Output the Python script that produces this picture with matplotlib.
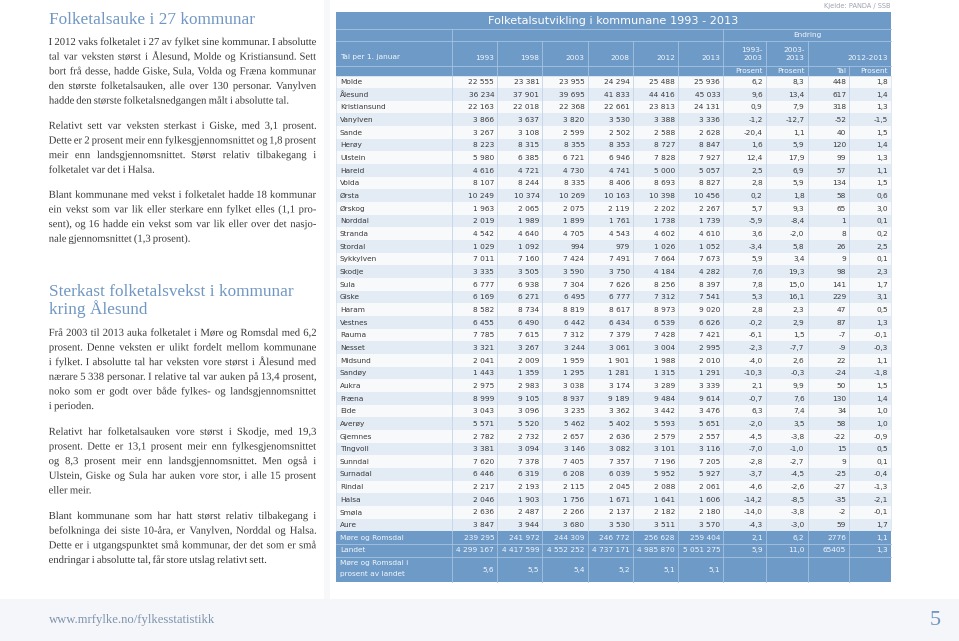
import matplotlib
matplotlib.use("Agg")
import matplotlib.pyplot as plt
from matplotlib.patches import Rectangle, PathPatch
from matplotlib.font_manager import FontProperties
from matplotlib.textpath import TextPath
from matplotlib.transforms import Affine2D

# ---------------- data ----------------
municipalities = ["Molde", "Ålesund", "Kristiansund", "Vanylven", "Sande", "Herøy", "Ulstein",
                  "Hareid", "Volda", "Ørsta", "Ørskog", "Norddal", "Stranda", "Stordal",
                  "Sykkylven", "Skodje", "Sula", "Giske", "Haram", "Vestnes", "Rauma", "Nesset",
                  "Midsund", "Sandøy", "Aukra", "Fræna", "Eide", "Averøy", "Gjemnes", "Tingvoll",
                  "Sunndal", "Surnadal", "Rindal", "Halsa", "Smøla", "Aure"]
pop_1993 = [22555, 36234, 22163, 3866, 3267, 8223, 5980, 4616, 8107, 10249, 1963, 2019, 4542, 1029,
            7011, 3335, 6777, 6169, 8582, 6455, 7785, 3321, 2041, 1443, 2975, 8999, 3043, 5571,
            2782, 3381, 7620, 6446, 2217, 2046, 2636, 3847]
pop_1998 = [23381, 37901, 22018, 3637, 3108, 8315, 6385, 4721, 8244, 10374, 2065, 1989, 4640, 1092,
            7160, 3505, 6938, 6271, 8734, 6490, 7615, 3267, 2009, 1359, 2983, 9105, 3096, 5520,
            2732, 3094, 7378, 6319, 2193, 1903, 2487, 3944]
pop_2003 = [23955, 39695, 22368, 3820, 2599, 8355, 6721, 4730, 8335, 10269, 2075, 1899, 4705, 994,
            7424, 3590, 7304, 6495, 8819, 6442, 7312, 3244, 1959, 1295, 3038, 8937, 3235, 5462,
            2657, 3146, 7405, 6208, 2115, 1756, 2266, 3680]
pop_2008 = [24294, 41833, 22661, 3530, 2502, 8353, 6946, 4741, 8406, 10163, 2119, 1761, 4543, 979,
            7491, 3750, 7626, 6777, 8617, 6434, 7379, 3061, 1901, 1281, 3174, 9189, 3362, 5402,
            2636, 3082, 7357, 6039, 2045, 1671, 2137, 3530]
pop_2012 = [25488, 44416, 23813, 3388, 2588, 8727, 7828, 5000, 8693, 10398, 2202, 1738, 4602, 1026,
            7664, 4184, 8256, 7312, 8973, 6539, 7428, 3004, 1988, 1315, 3289, 9484, 3442, 5593,
            2579, 3101, 7196, 5952, 2088, 1641, 2182, 3511]
pop_2013 = [25936, 45033, 24131, 3336, 2628, 8847, 7927, 5057, 8827, 10456, 2267, 1739, 4610, 1052,
            7673, 4282, 8397, 7541, 9020, 6626, 7421, 2995, 2010, 1291, 3339, 9614, 3476, 5651,
            2557, 3116, 7205, 5927, 2061, 1606, 2180, 3570]
pct_1993_2003 = [6.2, 9.6, 0.9, -1.2, -20.4, 1.6, 12.4, 2.5, 2.8, 0.2, 5.7, -5.9, 3.6, -3.4, 5.9, 7.6,
                 7.8, 5.3, 2.8, -0.2, -6.1, -2.3, -4.0, -10.3, 2.1, -0.7, 6.3, -2.0, -4.5, -7.0,
                 -2.8, -3.7, -4.6, -14.2, -14.0, -4.3]
pct_2003_2013 = [8.3, 13.4, 7.9, -12.7, 1.1, 5.9, 17.9, 6.9, 5.9, 1.8, 9.3, -8.4, -2.0, 5.8, 3.4, 19.3,
                 15.0, 16.1, 2.3, 2.9, 1.5, -7.7, 2.6, -0.3, 9.9, 7.6, 7.4, 3.5, -3.8, -1.0, -2.7,
                 -4.5, -2.6, -8.5, -3.8, -3.0]
change_2012_2013 = [448, 617, 318, -52, 40, 120, 99, 57, 134, 58, 65, 1, 8, 26, 9, 98, 141, 229, 47,
                    87, -7, -9, 22, -24, 50, 130, 34, 58, -22, 15, 9, -25, -27, -35, -2, 59]
pct_2012_2013 = [1.8, 1.4, 1.3, -1.5, 1.5, 1.4, 1.3, 1.1, 1.5, 0.6, 3.0, 0.1, 0.2, 2.5, 0.1, 2.3, 1.7,
                 3.1, 0.5, 1.3, -0.1, -0.3, 1.1, -1.8, 1.5, 1.4, 1.0, 1.0, -0.9, 0.5, 0.1, -0.4,
                 -1.3, -2.1, -0.1, 1.7]

county_label = "Møre og Romsdal"
county_pop = [239295, 241972, 244309, 246772, 256628, 259404]
county_changes = [2.1, 6.2, 2776, 1.1]
country_label = "Landet"
country_pop = [4299167, 4417599, 4552252, 4737171, 4985870, 5051275]
country_changes = [5.9, 11.0, 65405, 1.3]
share_label = ["Møre og Romsdal i", "prosent av landet"]
share_of_country = [5.6, 5.5, 5.4, 5.2, 5.1, 5.1]

years = ["1993", "1998", "2003", "2008", "2012", "2013"]
table_title = "Folketalsutvikling i kommunane 1993 - 2013"
source_text = "Kjelde: PANDA / SSB"

heading1 = "Folketalsauke i 27 kommunar"
heading2 = ["Sterkast folketalsvekst i kommunar", "kring Ålesund"]
paragraphs = [
    ["I 2012 vaks folketalet i 27 av fylket sine kommunar. I absolutte",
     "tal var veksten størst i Ålesund, Molde og Kristiansund. Sett",
     "bort frå desse, hadde Giske, Sula, Volda og Fræna kommunar",
     "den største folketalsauken, alle over 130 personar. Vanylven",
     "hadde den største folketalsnedgangen målt i absolutte tal."],
    ["Relativt sett var veksten sterkast i Giske, med 3,1 prosent.",
     "Dette er 2 prosent meir enn fylkesgjennomsnittet og 1,8 prosent",
     "meir enn landsgjennomsnittet. Størst relativ tilbakegang i",
     "folketalet var det i Halsa."],
    ["Blant kommunane med vekst i folketalet hadde 18 kommunar",
     "ein vekst som var lik eller sterkare enn fylket elles (1,1 pro-",
     "sent), og 16 hadde ein vekst som var lik eller over det nasjo-",
     "nale gjennomsnittet (1,3 prosent)."],
    ["Frå 2003 til 2013 auka folketalet i Møre og Romsdal med 6,2",
     "prosent. Denne veksten er ulikt fordelt mellom kommunane",
     "i fylket. I absolutte tal har veksten vore størst i Ålesund med",
     "nærare 5 338 personar. I relative tal var auken på 13,4 prosent,",
     "noko som er godt over både fylkes- og landsgjennomsnittet",
     "i perioden."],
    ["Relativt har folketalsauken vore størst i Skodje, med 19,3",
     "prosent. Dette er 13,1 prosent meir enn fylkesgjenomsnittet",
     "og 8,3 prosent meir enn landsgjennomsnittet. Men også i",
     "Ulstein, Giske og Sula har auken vore stor, i alle 15 prosent",
     "eller meir."],
    ["Blant kommunane som har hatt størst relativ tilbakegang i",
     "befolkninga dei siste 10-åra, er Vanylven, Norddal og Halsa.",
     "Dette er i utgangspunktet små kommunar, der det som er små",
     "endringar i absolutte tal, får store utslag relativt sett."],
]
footer_url = "www.mrfylke.no/fylkesstatistikk"
page_number = "5"

# ---------------- layout ----------------
W, H = 959, 641
fig = plt.figure(figsize=(W / 100, H / 100), dpi=100)
ax = fig.add_axes([0, 0, 1, 1])
ax.set_xlim(0, W)
ax.set_ylim(H, 0)
ax.axis("off")
renderer = fig.canvas.get_renderer()


def tw(s, fp):
    w, h, d = renderer.get_text_width_height_descent(s, fp, ismath=False)
    return w


BLUE = "#6e9ac7"
HEAD_TXT = "#7097c3"
BODY = "#3a3a3a"

# footer band
ax.add_patch(Rectangle((0, 599), W, H - 599, facecolor="#f4f6f9", edgecolor="none"))
# faint right edge of the text column
ax.add_patch(Rectangle((324, 0), 6, 599, facecolor="#f7f8fa", edgecolor="none"))

# ---- left column text ----
serif = "Liberation Serif"
X0, X1 = 49, 316
fp_h = FontProperties(family=serif, size=10)
hsize = 10 * 206 / tw(heading1, fp_h)
fp_h = FontProperties(family=serif, size=hsize)
ax.text(X0, 24, heading1, fontproperties=fp_h, color=HEAD_TXT, va="baseline", ha="left")
ax.text(X0, 296, heading2[0], fontproperties=fp_h, color=HEAD_TXT, va="baseline", ha="left")
ax.text(X0, 314.5, heading2[1], fontproperties=fp_h, color=HEAD_TXT, va="baseline", ha="left")

fp_serif = FontProperties(family=serif)


def ink(s, px):
    tp = TextPath((0, 0), s, size=px, prop=fp_serif)
    return tp, tp.get_extents()


REF = 10.0
sp_ref = ink("a a", REF)[1].width - ink("aa", REF)[1].width
nat = []
for para in paragraphs:
    for line in para[:-1]:
        ws = line.split(" ")
        nat.append(sum(ink(w, REF)[1].width for w in ws) + sp_ref * 1.05 * (len(ws) - 1))
bpx = REF * (X1 - X0) / max(nat)
space = ink("a a", bpx)[1].width - ink("aa", bpx)[1].width

para_start = [45, 128.8, 197.8, 335.8, 434.8, 519.0]
LS = 14.65
for para, y0 in zip(paragraphs, para_start):
    for k, line in enumerate(para):
        y = y0 + k * LS
        words = line.split(" ")
        items = [ink(w, bpx) for w in words]
        widths = [e.width for _, e in items]
        if k < len(para) - 1 and len(words) > 1:
            gap = ((X1 - X0) - sum(widths)) / (len(words) - 1)
        else:
            gap = space
        x = X0
        for (tp, e), wd in zip(items, widths):
            path = Affine2D().translate(-e.x0, 0).scale(1, -1).translate(x, y).transform_path(tp)
            ax.add_patch(PathPatch(path, facecolor=BODY, edgecolor="none", lw=0))
            x += wd + gap

fp_f = FontProperties(family=serif, size=10)
fsize = 10 * 166 / tw(footer_url, fp_f)
ax.text(X0, 623, footer_url, fontproperties=FontProperties(family=serif, size=fsize),
        color="#7d92ab", va="baseline", ha="left")
ax.text(941, 625, page_number, fontproperties=FontProperties(family=serif, size=16),
        color=HEAD_TXT, va="baseline", ha="right")

# ---- table ----
sans = "DejaVu Sans"
col_x = [336, 452, 497.2, 542.4, 587.6, 632.8, 678, 723.2, 765.7, 807.5, 849.2, 891]
T_TOP, R1, R2, R3, R4 = 12, 29, 41, 65.5, 75.5
RH = 12.66
n = len(municipalities)
data_bottom = R4 + n * RH
TL, TR = col_x[0], col_x[-1]
DS = 5.3
fp_d = FontProperties(family=sans, size=DS)
HLINE = "#a7c3e0"
VLINE_D = "#c3d4e8"
WHITE_T = "#f4f8fc"
TXT = "#3a3a3a"
PAD = 3

# header block
ax.add_patch(Rectangle((TL, T_TOP), TR - TL, R4 - T_TOP, facecolor=BLUE, edgecolor="none"))
for yy in (R1, R2, R3):
    ax.plot([TL, TR], [yy, yy], color=HLINE, lw=0.6)
ax.plot([TL, TR], [R4, R4], color="#d6e2ef", lw=0.6)
fp_t = FontProperties(family=sans, size=10)
tsize = 10 * 249 / tw(table_title, fp_t)
ax.text((TL + TR) / 2, (T_TOP + R1) / 2 + 0.5, table_title,
        fontproperties=FontProperties(family=sans, size=tsize), color="white",
        ha="center", va="center")
ax.text(TR, 6, source_text, fontproperties=FontProperties(family=sans, size=4.8),
        color="#9aa3ad", ha="right", va="center")
# Endring row
for xx in (col_x[1], col_x[7]):
    ax.plot([xx, xx], [R1, R2], color=HLINE, lw=0.6)
ax.text((col_x[7] + TR) / 2, (R1 + R2) / 2, "Endring", fontproperties=fp_d,
        color=WHITE_T, ha="center", va="center")
# year header row
for j, xx in enumerate(col_x[1:-1]):
    if j + 1 != 10:
        ax.plot([xx, xx], [R2, R3], color=HLINE, lw=0.6)
    ax.plot([xx, xx], [R3, R4], color=HLINE, lw=0.6)
ax.text(TL + 4, 57.5, "Tal per 1. januar", fontproperties=fp_d, color=WHITE_T,
        ha="left", va="center")
for j, yr in enumerate(years):
    ax.text(col_x[j + 2] - PAD, 57.5, yr, fontproperties=fp_d, color=WHITE_T,
            ha="right", va="center")
two_line = [("1993-", "2003"), ("2003-", "2013")]
for j, (a, b) in enumerate(two_line):
    ax.text(col_x[8 + j] - PAD, 49.5, a, fontproperties=fp_d, color=WHITE_T, ha="right", va="center")
    ax.text(col_x[8 + j] - PAD, 58.0, b, fontproperties=fp_d, color=WHITE_T, ha="right", va="center")
ax.text(TR - PAD, 57.5, "2012-2013", fontproperties=fp_d, color=WHITE_T, ha="right", va="center")
for j, lab in enumerate(["Prosent", "Prosent", "Tal", "Prosent"]):
    ax.text(col_x[8 + j] - PAD, (R3 + R4) / 2 + 0.3, lab, fontproperties=fp_d, color=WHITE_T,
            ha="right", va="center")


def fmt_int(v):
    return f"{v:,}".replace(",", " ")


def fmt_pct(v):
    return f"{v:.1f}".replace(".", ",")


# data rows
for i, name in enumerate(municipalities):
    y0 = R4 + i * RH
    ax.add_patch(Rectangle((TL, y0), TR - TL, RH,
                           facecolor="#e3ebf5" if i % 2 else "#f8f9fb", edgecolor="none"))
    yc = y0 + RH / 2 + 0.2
    ax.text(TL + 4, yc, name, fontproperties=fp_d, color=TXT, ha="left", va="center")
    vals = [fmt_int(pop_1993[i]), fmt_int(pop_1998[i]), fmt_int(pop_2003[i]),
            fmt_int(pop_2008[i]), fmt_int(pop_2012[i]), fmt_int(pop_2013[i]),
            fmt_pct(pct_1993_2003[i]), fmt_pct(pct_2003_2013[i]),
            str(change_2012_2013[i]), fmt_pct(pct_2012_2013[i])]
    for j, s in enumerate(vals):
        ax.text(col_x[j + 2] - PAD, yc, s, fontproperties=fp_d, color=TXT,
                ha="right", va="center")
for xx in col_x[1:-1]:
    ax.plot([xx, xx], [R4, data_bottom], color=VLINE_D, lw=0.6)
for xx in (TL, TR):
    ax.plot([xx, xx], [R4, data_bottom], color="#d3dfec", lw=0.5)

# total rows
tot_bottom = data_bottom + 4 * RH + 0.5
ax.add_patch(Rectangle((TL, data_bottom), TR - TL, tot_bottom - data_bottom,
                       facecolor=BLUE, edgecolor="none"))
ax.plot([TL, TR], [data_bottom + RH, data_bottom + RH], color=HLINE, lw=0.6)
ax.plot([TL, TR], [data_bottom + 2 * RH, data_bottom + 2 * RH], color=HLINE, lw=0.6)
for xx in col_x[1:-1]:
    ax.plot([xx, xx], [data_bottom, tot_bottom], color=HLINE, lw=0.6)

tot_rows = [(county_label, county_pop, county_changes), (country_label, country_pop, country_changes)]
for k, (lab, pops, ch) in enumerate(tot_rows):
    yc = data_bottom + k * RH + RH / 2 + 0.2
    ax.text(TL + 4, yc, lab, fontproperties=fp_d, color=WHITE_T, ha="left", va="center")
    vals = [fmt_int(v) for v in pops] + [fmt_pct(ch[0]), fmt_pct(ch[1]), str(ch[2]), fmt_pct(ch[3])]
    for j, s in enumerate(vals):
        ax.text(col_x[j + 2] - PAD, yc, s, fontproperties=fp_d, color=WHITE_T,
                ha="right", va="center")
y_last0 = data_bottom + 2 * RH
ax.text(TL + 4, y_last0 + 6.6, share_label[0], fontproperties=fp_d, color=WHITE_T, ha="left", va="center")
ax.text(TL + 4, y_last0 + 17.4, share_label[1], fontproperties=fp_d, color=WHITE_T, ha="left", va="center")
for j, v in enumerate(share_of_country):
    ax.text(col_x[j + 2] - PAD, y_last0 + 13.5, fmt_pct(v), fontproperties=fp_d, color=WHITE_T,
            ha="right", va="center")

fig.savefig("out.png", dpi=100)
